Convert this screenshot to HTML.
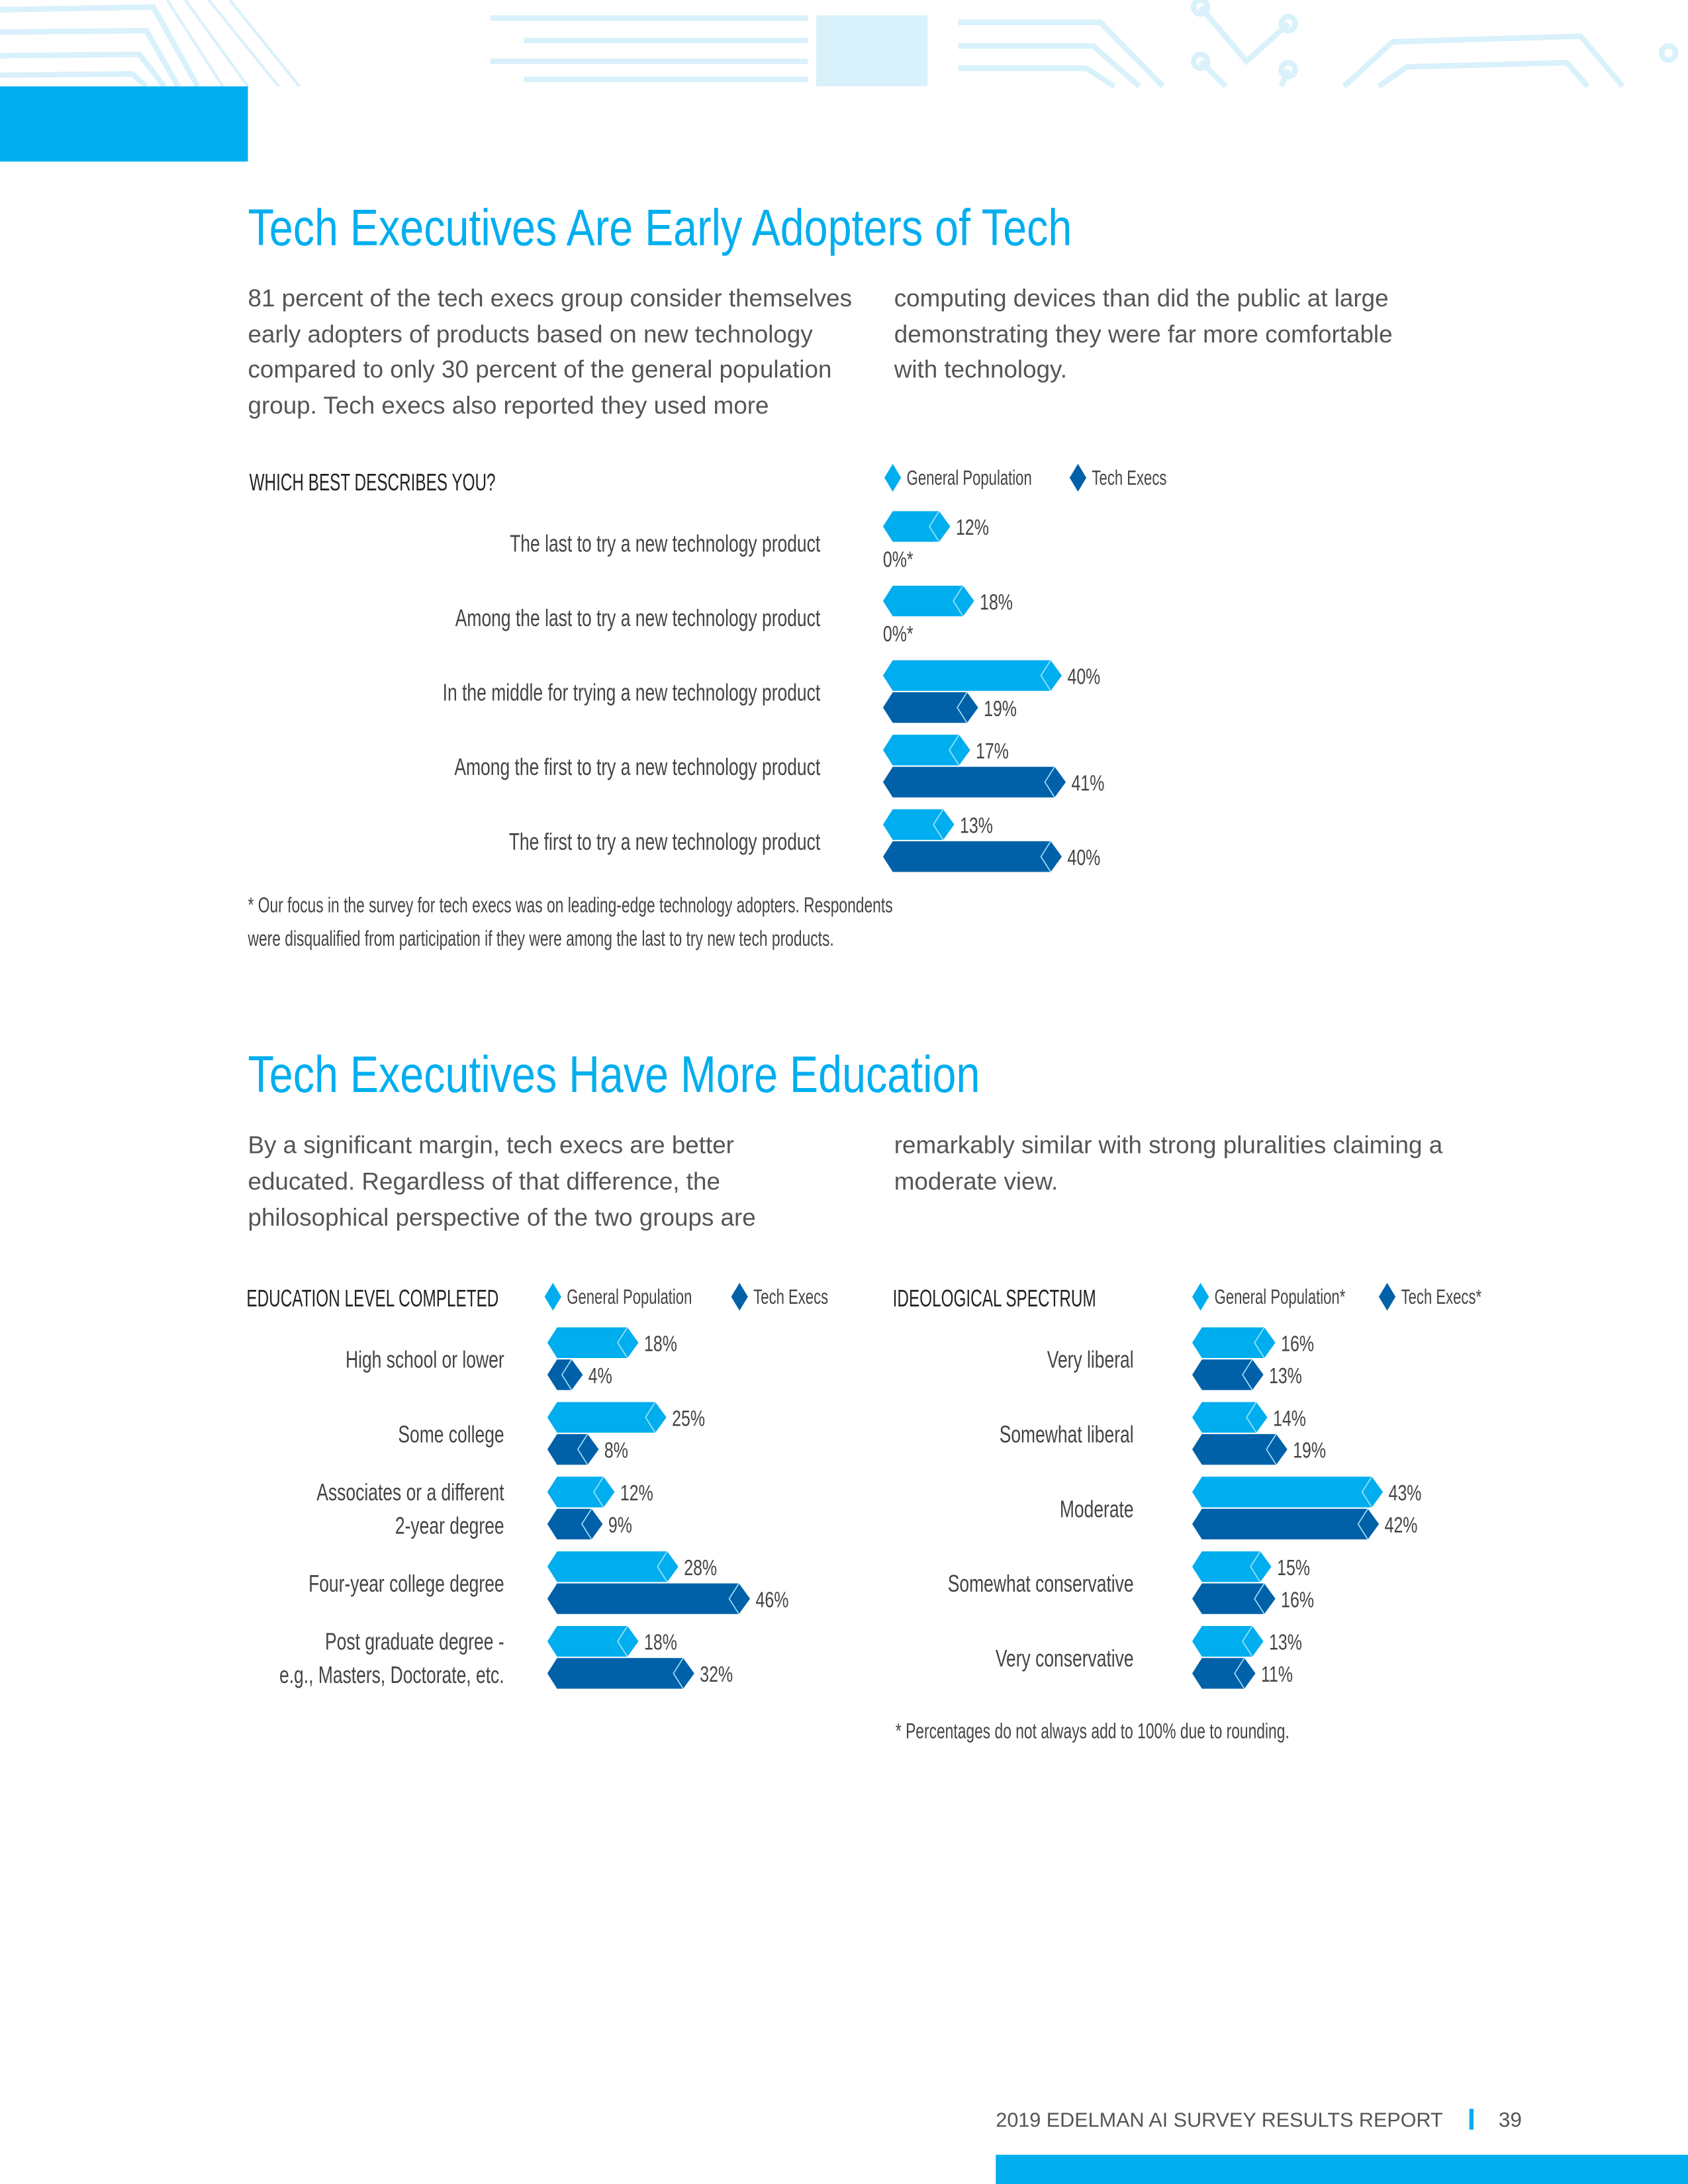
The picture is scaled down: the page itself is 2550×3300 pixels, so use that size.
<!DOCTYPE html>
<html><head><meta charset="utf-8"><style>
html,body{margin:0;padding:0;background:#fff;}
svg{display:block;}
</style></head><body>
<svg id="page" width="2550" height="3300" viewBox="0 0 1212 1568" preserveAspectRatio="none" xmlns="http://www.w3.org/2000/svg" font-family="'Liberation Sans', sans-serif">
<g fill="none" stroke="#d9f1fa" stroke-width="4">
  <path d="M0 7 L110 5 L142 62 M0 23 L105 22 L128 62 M0 40 L100 39 L118 62 M0 54 L95 53 L105 62"/>
  <path d="M120 0 L160 62 M133 0 L178 62 M150 0 L200 62 M165 0 L215 62" stroke-width="2"/>
  <path d="M352 13 L580 13 M376 29 L580 29 M352 44 L580 44 M376 57 L580 57"/>
  <rect x="586" y="11" width="80" height="51" fill="#d9f1fa" stroke="none"/>
  <path d="M688 16 L790 16 L835 62 M688 33 L785 33 L818 62 M688 49 L780 49 L800 62"/>
  <path d="M862 5 L895 44 L925 17 M862 44 L880 62 M925 50 L920 62"/>
  <circle cx="862" cy="5" r="5"/><circle cx="925" cy="17" r="5"/><circle cx="862" cy="44" r="5"/><circle cx="925" cy="50" r="5"/>
  <path d="M965 62 L1000 30 L1135 26 L1165 62 M990 62 L1010 48 L1125 45 L1140 62"/>
  <circle cx="1198" cy="38" r="5"/>
</g>
<rect x="0" y="62" width="178" height="54" fill="#00aeef"/>

<text x="178" y="176" font-size="37" fill="#00aeef" transform="translate(178,176) scale(0.83,1) translate(-178,-176)">Tech Executives Are Early Adopters of Tech</text>
<g font-size="17.5" fill="#555">
  <text x="178" y="220">81 percent of the tech execs group consider themselves</text>
  <text x="178" y="246">early adopters of products based on new technology</text>
  <text x="178" y="271">compared to only 30 percent of the general population</text>
  <text x="178" y="297">group. Tech execs also reported they used more</text>
  <text x="642" y="220">computing devices than did the public at large</text>
  <text x="642" y="246">demonstrating they were far more comfortable</text>
  <text x="642" y="271">with technology.</text>
</g>

<g id="c1"></g>
<g id="c2"></g>
<g id="c3"></g>

<text x="178" y="784" font-size="37" fill="#00aeef" transform="translate(178,784) scale(0.83,1) translate(-178,-784)">Tech Executives Have More Education</text>
<g font-size="17.5" fill="#555">
  <text x="178" y="828">By a significant margin, tech execs are better</text>
  <text x="178" y="854">educated. Regardless of that difference, the</text>
  <text x="178" y="880">philosophical perspective of the two groups are</text>
  <text x="642" y="828">remarkably similar with strong pluralities claiming a</text>
  <text x="642" y="854">moderate view.</text>
</g>

<text x="715" y="1527" font-size="14.5" fill="#555" textLength="321" lengthAdjust="spacingAndGlyphs">2019 EDELMAN AI SURVEY RESULTS REPORT</text>
<rect x="1055" y="1514" width="3" height="15" fill="#00aeef"/>
<text x="1076" y="1527" font-size="15" fill="#555">39</text>
<rect x="715" y="1547" width="497" height="21" fill="#00aeef"/>

<script>
// Chart 1 data
const c1Categories = ["The last to try a new technology product","Among the last to try a new technology product","In the middle for trying a new technology product","Among the first to try a new technology product","The first to try a new technology product"];
const c1General = [12, 18, 40, 17, 13];
const c1Tech = [0, 0, 19, 41, 40];
const c1TechLabels = ["0%*","0%*","19%","41%","40%"];
// Chart 2 data
const c2Categories = [["High school or lower"],["Some college"],["Associates or a different","2-year degree"],["Four-year college degree"],["Post graduate degree -","e.g., Masters, Doctorate, etc."]];
const c2General = [18, 25, 12, 28, 18];
const c2Tech = [4, 8, 9, 46, 32];
// Chart 3 data
const c3Categories = [["Very liberal"],["Somewhat liberal"],["Moderate"],["Somewhat conservative"],["Very conservative"]];
const c3General = [16, 14, 43, 15, 13];
const c3Tech = [13, 19, 42, 16, 11];

const NS = "http://www.w3.org/2000/svg";
const LIGHT = "#00aeef", DARK = "#0061a8", TXT = "#444";
const COND = "'Liberation Sans Narrow','Liberation Sans',sans-serif";

function txt(parent, x, y, s, size, anchor, fill, sx) {
  const t = document.createElementNS(NS, "text");
  t.setAttribute("transform", `translate(${x},${y}) scale(${sx || 0.74},1)`);
  t.setAttribute("font-size", size);
  t.setAttribute("font-family", COND);
  t.setAttribute("fill", fill || TXT);
  if (anchor) t.setAttribute("text-anchor", anchor);
  t.textContent = s;
  parent.appendChild(t);
  return t;
}
function diamond(parent, x, y, color) {
  const p = document.createElementNS(NS, "polygon");
  p.setAttribute("points", `${x},${y-10} ${x+6},${y} ${x},${y+10} ${x-6},${y}`);
  p.setAttribute("fill", color);
  parent.appendChild(p);
  return p;
}
function bar(parent, x0, tip, cy, color) {
  const h = 11;
  const g = document.createElementNS(NS, "g");
  const p = document.createElementNS(NS, "polygon");
  p.setAttribute("points", `${x0},${cy} ${x0+7},${cy-h} ${tip-8},${cy-h} ${tip},${cy} ${tip-8},${cy+h} ${x0+7},${cy+h}`);
  p.setAttribute("fill", color);
  g.appendChild(p);
  const l = document.createElementNS(NS, "polyline");
  l.setAttribute("points", `${tip-8},${cy-h} ${tip-15},${cy} ${tip-8},${cy+h}`);
  l.setAttribute("fill", "none");
  l.setAttribute("stroke", "#9fe0f8");
  l.setAttribute("stroke-width", "0.8");
  g.appendChild(l);
  parent.appendChild(g);
  return g;
}
function xScale(x0, v) { return x0 + 14 + v * 2.86; }

function drawChart(id, cats, gen, tech, opt) {
  const root = document.getElementById(id);
  txt(root, opt.titleX, opt.titleY, opt.title, 17, null, "#222", 0.68);
  const lg1 = diamond(root, opt.legX, opt.legY, LIGHT);
  
  
  const lt1 = txt(root, opt.legX + 10, opt.legY + 5, opt.leg1, 15, null, null, 0.7);
  
  
  const lg2 = diamond(root, opt.legX + opt.legGap, opt.legY, DARK);
  
  
  const lt2 = txt(root, opt.legX + opt.legGap + 10, opt.legY + 5, opt.leg2, 15, null, null, 0.7);
  
  
  cats.forEach((c, i) => {
    const cy = opt.rowY + i * opt.rowH;
    const lines = Array.isArray(c) ? c : [c];
    lines.forEach((ln, j) => {
      const off = (j - (lines.length - 1) / 2) * 24;
      const ct = txt(root, opt.labelX, cy + 18 + off, ln, 17, "end");
      
      
    });
    const gt = xScale(opt.x0, gen[i]);
    const gb = bar(root, opt.x0, gt, cy, LIGHT);
    
    
    const gl = txt(root, gt + 4, cy + 6, gen[i] + "%", 16);
    
    
    const cy2 = cy + 23;
    if (tech[i] > 0) {
      const tt = xScale(opt.x0, tech[i]);
      const tb = bar(root, opt.x0, tt, cy2, DARK);
      
      
      const tl = txt(root, tt + 4, cy2 + 6, opt.techLabels ? opt.techLabels[i] : tech[i] + "%", 16);
      
      
    } else {
      const tl = txt(root, opt.x0, cy2 + 6, opt.techLabels ? opt.techLabels[i] : "0%", 16);
      
      
    }
  });
  (opt.notes || []).forEach((n, k) => {
    const nt = txt(root, opt.noteX, opt.noteY + k * 24, n, 15.5, null, null, 0.7);
    
    
  });
}

drawChart("c1", c1Categories, c1General, c1Tech, {
  title: "WHICH BEST DESCRIBES YOU?", titleX: 179, titleY: 352,
  leg1: "General Population", leg2: "Tech Execs", legX: 641, legY: 343, legGap: 133,
  rowY: 378, rowH: 53.5, labelX: 589, x0: 634, techLabels: c1TechLabels,
  notes: ["* Our focus in the survey for tech execs was on leading-edge technology adopters. Respondents",
          "were disqualified from participation if they were among the last to try new tech products."],
  noteX: 178, noteY: 655
});
drawChart("c2", c2Categories, c2General, c2Tech, {
  title: "EDUCATION LEVEL COMPLETED", titleX: 177, titleY: 938,
  leg1: "General Population", leg2: "Tech Execs", legX: 397, legY: 931, legGap: 134,
  rowY: 964, rowH: 53.6, labelX: 362, x0: 393
});
drawChart("c3", c3Categories, c3General, c3Tech, {
  title: "IDEOLOGICAL SPECTRUM", titleX: 641, titleY: 938,
  leg1: "General Population*", leg2: "Tech Execs*", legX: 862, legY: 931, legGap: 134,
  rowY: 964, rowH: 53.6, labelX: 814, x0: 856,
  notes: ["* Percentages do not always add to 100% due to rounding."], noteX: 643, noteY: 1248
});
</script>
</svg>
</body></html>
